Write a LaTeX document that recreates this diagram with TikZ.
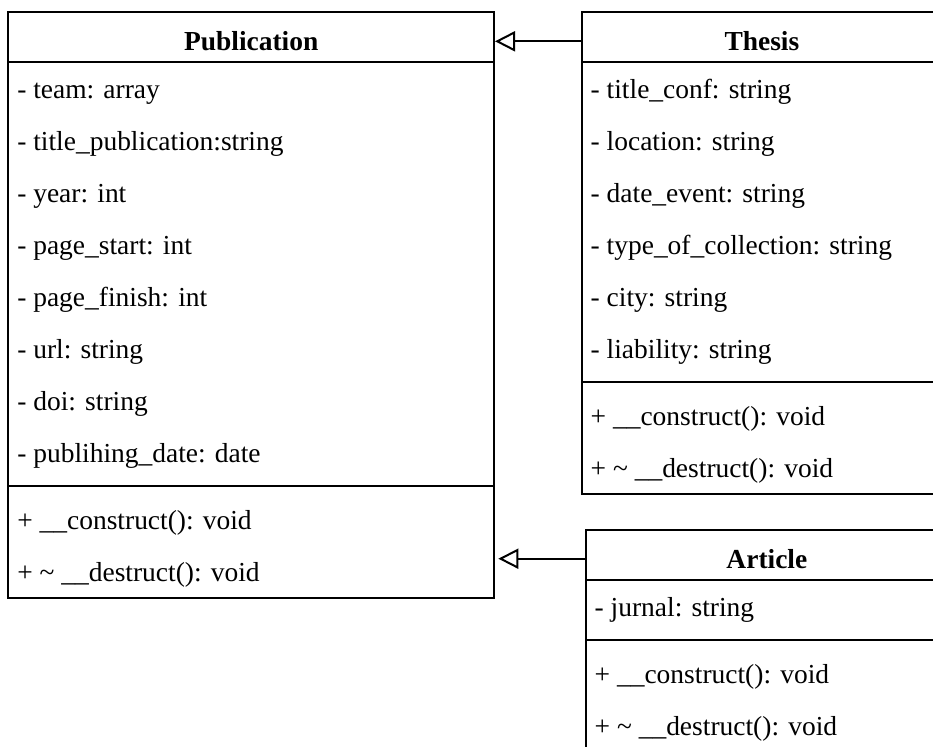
\documentclass[tikz,border=0pt]{standalone}
\usepackage{fontspec}
\setmainfont{Liberation Serif}
\usetikzlibrary{arrows.meta,fit,calc}
\begin{document}
\begin{tikzpicture}[x=0.75pt,y=-0.75pt,
  line width=1.5pt,
  classbox/.style={draw, inner sep=0pt},
  attr/.style={anchor=base west, inner sep=0pt, font=\fontsize{20.6pt}{25pt}\selectfont},
  head/.style={anchor=base, inner sep=0pt, font=\fontsize{20.6pt}{25pt}\selectfont\bfseries},
  inh/.style={-{Triangle[open,length=15pt,width=15pt]}, line width=1.5pt}
]
\useasboundingbox (0,0) rectangle (933,747);
\clip (0,0) rectangle (933,747);

% ---------- Publication ----------
\node[classbox, fit={(8.3,12) (494,598)}] (pub) {};
\node[classbox, fit={(8.3,12) (494,62)}] (pubH) {};
\node[head] (pubT) at (251.2,50) {Publication};
\foreach \t [count=\i] in {
  - team: array,
  - title\_publication:string,
  - year: int,
  - page\_start: int,
  - page\_finish: int,
  - url: string,
  - doi: string,
  - publihing\_date: date}
  \node[attr] (pa\i) at (16.3,{62+52*(\i-1)+36}) {\t};
\draw (8.3,486) -- (494,486);
\node[attr] (pm1) at (16.3,{494+35}) {+ \_\_construct(): void};
\node[attr] (pm2) at (16.3,{546+35}) {+ \textasciitilde{} \_\_destruct(): void};

% ---------- Thesis ----------
\node[classbox, fit={(581.7,12) (942,494)}] (th) {};
\node[classbox, fit={(581.7,12) (942,62)}] (thH) {};
\node[head] (thT) at (761.9,50) {Thesis};
\foreach \t [count=\i] in {
  - title\_conf: string,
  - location: string,
  - date\_event: string,
  - type\_of\_collection: string,
  - city: string,
  - liability: string}
  \node[attr] (ta\i) at (589.7,{62+52*(\i-1)+36}) {\t};
\draw (581.7,382) -- (942,382);
\node[attr] (tm1) at (589.7,{390+35}) {+ \_\_construct(): void};
\node[attr] (tm2) at (589.7,{442+35}) {+ \textasciitilde{} \_\_destruct(): void};

% ---------- Article ----------
\node[classbox, fit={(585.7,530) (948,752)}] (art) {};
\node[classbox, fit={(585.7,530) (948,580)}] (artH) {};
\node[head] (artT) at (766.9,568) {Article};
\node[attr] (aa1) at (593.7,{580+36}) {- jurnal: string};
\draw (585.7,640) -- (948,640);
\node[attr] (am1) at (593.7,{648+35}) {+ \_\_construct(): void};
\node[attr] (am2) at (593.7,{700+35}) {+ \textasciitilde{} \_\_destruct(): void};

% ---------- Generalisations ----------
\coordinate (ly1) at (0,41.3);
\coordinate (ly2) at (0,558.7);
\draw[inh] (th.west |- ly1) -- (pub.east |- ly1);
\draw[inh] (art.west |- ly2) -- ($(pub.east |- ly2)+(2.5pt,0)$);
\end{tikzpicture}
\end{document}
